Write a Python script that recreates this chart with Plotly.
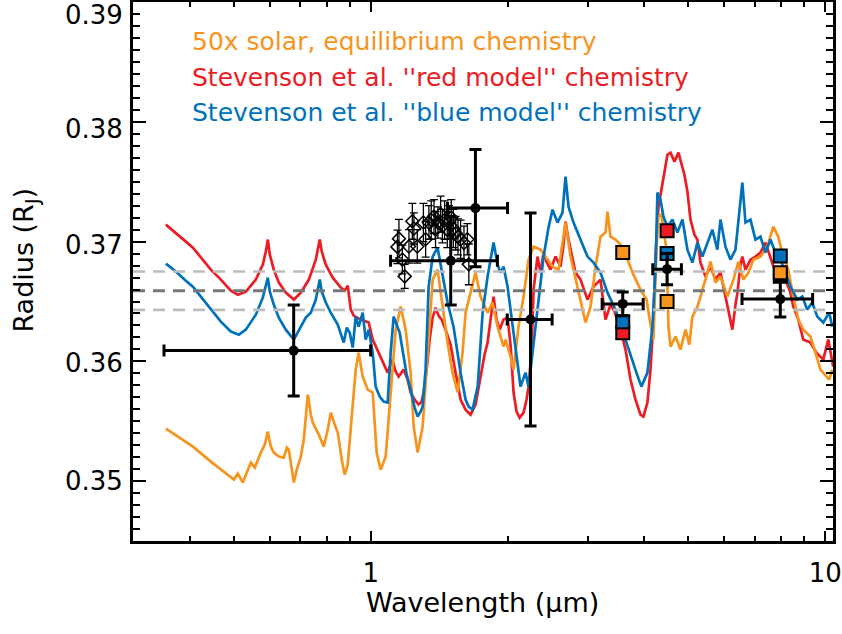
import plotly.graph_objects as go
import math

# ---------------- model spectra (wavelength in micron, radius in R_J) ----------------
wl_red = [0.3543,0.3727,0.3921,0.4063,0.4230,0.4450,0.4681,0.4924,0.5102,0.5313,
          0.5589,0.5791,0.5879,0.5939,0.5999,0.6121,0.6279,0.6505,0.6775,0.7019,
          0.7310,0.7573,0.7648,0.7726,0.7805,0.7966,0.8252,0.8594,0.8768,0.8902,
          0.9040,0.9176,0.9506,0.9900,1.0102,1.0519,1.0898,1.1159,1.1349,1.1520,
          1.1817,1.2059,1.2243,1.2494,1.2749,1.2945,1.3076,1.3277,1.3480,1.3688,
          1.3891,1.4103,1.4322,1.4612,1.4988,1.5372,1.5766,1.6170,1.6584,1.7010,
          1.7446,1.7803,1.8077,1.8352,1.8634,1.8919,1.9210,1.9603,2.0004,2.0307,
          2.0622,2.0937,2.1259,2.1694,2.2027,2.2252,2.2590,2.2820,2.3281,2.3640,
          2.4007,2.4369,2.4867,2.5505,2.6159,2.6559,2.6830,2.7240,2.7518,2.8224,
          2.8948,2.9990,3.0914,3.2032,3.2853,3.3697,3.4385,3.5447,3.6356,3.7288,
          3.8244,3.9225,3.9811,4.0625,4.1262,4.1879,4.2320,4.2954,4.3614,4.4284,
          4.4953,4.5660,4.6580,4.7534,4.8261,4.8999,4.9750,5.0526,5.1540,5.2326,
          5.3150,5.4513,5.5911,5.7345,5.8815,6.0323,6.1219,6.2475,6.3457,6.4103,
          6.5084,6.5700,6.6753,6.8465,7.0220,7.2021,7.3868,7.5762,7.7704,7.9697,
          8.1740,8.3836,8.5065,8.7250,8.9437,9.2772,9.5553,9.8997,10.153,10.41]
r_red = [0.37142,0.37075,0.3700,0.3695,0.36866,0.36766,0.36683,0.36591,0.36557,0.36583,
         0.36683,0.36808,0.36917,0.37017,0.36891,0.36766,0.36658,0.36574,0.36516,0.36574,
         0.36683,0.3685,0.36933,0.37017,0.36917,0.36808,0.36699,0.36616,0.36591,0.36633,
         0.36432,0.36382,0.36349,0.36324,0.36182,0.3604,0.35906,0.36015,0.35915,0.35873,
         0.35931,0.35848,0.3574,0.35681,0.35639,0.35664,0.3574,0.35931,0.36182,0.36365,
         0.36449,0.36382,0.36349,0.36265,0.3614,0.35906,0.35681,0.35597,0.35555,0.35639,
         0.35873,0.36056,0.36157,0.36349,0.36541,0.36349,0.36265,0.36349,0.36365,0.3614,
         0.3574,0.3558,0.3553,0.35572,0.35681,0.35789,0.36098,0.36599,0.36875,0.36741,
         0.36908,0.36833,0.36766,0.36875,0.36791,0.36975,0.37167,0.37017,0.36933,0.36741,
         0.36683,0.36516,0.36624,0.36683,0.36349,0.36474,0.36416,0.36265,0.36098,0.35848,
         0.35681,0.35555,0.35539,0.35656,0.35931,0.36349,0.36875,0.37292,0.37434,0.37601,
         0.37726,0.37743,0.37668,0.37743,0.37643,0.37559,0.37418,0.37184,0.37058,0.37017,
         0.36825,0.36708,0.36791,0.36683,0.36741,0.36541,0.36432,0.36265,0.36474,0.36574,
         0.36808,0.36875,0.36766,0.3685,0.36875,0.36908,0.36992,0.36875,0.36741,0.36708,
         0.36683,0.36574,0.36457,0.36349,0.36182,0.36157,0.36073,0.36015,0.36182,0.35956]

wl_blue = [0.3543,0.3727,0.3921,0.4063,0.4230,0.4450,0.4681,0.4924,0.5128,0.5313,
           0.5589,0.5791,0.5879,0.5939,0.5999,0.6121,0.6279,0.6505,0.6775,0.7019,
           0.7199,0.7383,0.7573,0.7648,0.7726,0.7805,0.7966,0.8170,0.8462,0.8724,
           0.8859,0.8993,0.9129,0.9269,0.9410,0.9603,0.9750,0.9900,1.0102,1.0256,
           1.0466,1.0680,1.0898,1.1065,1.1233,1.1405,1.1580,1.1817,1.2000,1.2243,
           1.2494,1.2686,1.2875,1.3010,1.3205,1.3412,1.3688,1.4031,1.4394,1.4762,
           1.5214,1.5766,1.6170,1.6423,1.6758,1.7192,1.7631,1.8077,1.8634,1.9015,
           1.9305,1.9603,2.0004,2.0307,2.0829,2.1363,2.1910,2.2252,2.2699,2.3281,
           2.4007,2.4615,2.5119,2.5763,2.6424,2.6830,2.7240,2.7938,2.8948,2.9990,
           3.0914,3.2032,3.3189,3.4561,3.5447,3.6356,3.7288,3.8421,3.9406,4.0625,
           4.1668,4.2320,4.2737,4.3405,4.4055,4.4953,4.6110,4.7290,4.8506,4.9750,
           5.1022,5.2326,5.3666,5.5040,5.6445,5.7890,5.8815,6.0323,6.1870,6.3457,
           6.4429,6.5700,6.6753,6.8465,7.0220,7.2021,7.3868,7.5762,7.7704,7.9697,
           8.1740,8.3836,8.6810,8.9041,9.1243,9.3577,9.6041,9.8997,10.205,10.36]
r_blue = [0.36816,0.3675,0.36674,0.36624,0.36541,0.36432,0.36332,0.36249,0.36223,0.36265,
          0.3639,0.36532,0.36624,0.36699,0.36582,0.36474,0.36365,0.36265,0.36182,0.36282,
          0.36365,0.36407,0.36516,0.36599,0.36683,0.36582,0.36491,0.36407,0.36307,0.36157,
          0.36282,0.3624,0.36115,0.36374,0.3629,0.36407,0.36182,0.36265,0.36073,0.35789,
          0.35706,0.35664,0.35656,0.36073,0.36374,0.36307,0.3624,0.3604,0.35889,0.35764,
          0.35614,0.35539,0.3558,0.35622,0.35931,0.36624,0.36875,0.3695,0.36708,0.36491,
          0.3629,0.35906,0.35681,0.35622,0.35597,0.35789,0.36407,0.36708,0.36992,0.36808,
          0.36741,0.36791,0.36624,0.36432,0.36123,0.35789,0.35906,0.35789,0.36073,0.36457,
          0.36875,0.37117,0.37267,0.37159,0.37242,0.37543,0.37292,0.37159,0.37017,0.36875,
          0.36825,0.36741,0.36574,0.36432,0.36307,0.36182,0.3604,0.35906,0.35789,0.35906,
          0.3629,0.36766,0.37409,0.37351,0.37209,0.37125,0.37184,0.37075,0.37184,0.36933,
          0.36825,0.36992,0.36875,0.36992,0.371,0.36933,0.37184,0.36958,0.3685,0.36933,
          0.37159,0.37493,0.37159,0.37184,0.37017,0.37042,0.36908,0.37017,0.36908,0.3685,
          0.36741,0.36624,0.36516,0.36541,0.36432,0.36491,0.36374,0.36324,0.36407,0.3629]

wl_orange = [0.3543,0.4063,0.4450,0.4681,0.5000,0.5102,0.5233,0.5449,0.5561,0.5732,
             0.5848,0.5939,0.6030,0.6121,0.6279,0.6440,0.6539,0.6605,0.6775,0.6877,
             0.7019,0.7126,0.7272,0.7383,0.7458,0.7687,0.7884,0.8045,0.8170,0.8333,
             0.8462,0.8636,0.8768,0.8902,0.9040,0.9269,0.9410,0.9603,0.9849,1.0102,
             1.0308,1.0519,1.0789,1.1065,1.1349,1.1639,1.1937,1.2243,1.2432,1.2686,
             1.3010,1.3344,1.3688,1.4031,1.4394,1.4762,1.5138,1.5534,1.5929,1.6170,
             1.6584,1.7010,1.7446,1.8077,1.8535,1.9015,1.9603,1.9800,2.0307,2.0622,
             2.1145,2.1694,2.2252,2.2820,2.3640,2.4491,2.5119,2.5895,2.6830,2.7518,
             2.8224,2.8948,2.9690,3.0451,3.1232,3.2032,3.2853,3.3189,3.3697,3.4561,
             3.5447,3.6723,3.7844,3.9225,4.0438,4.1262,4.1879,4.2521,4.2954,4.3614,
             4.4284,4.4738,4.5195,4.5660,4.6830,4.8031,4.9263,5.0240,5.1022,5.2326,
             5.3150,5.4513,5.5911,5.7345,5.8815,6.0925,6.2793,6.4429,6.6079,6.7773,
             6.9506,7.2021,7.4592,7.6837,7.8806,8.0828,8.2902,8.5065,8.7250,8.9437,
             9.2772,9.5151,9.7591,10.205,10.36]
r_orange = [0.35439,0.35288,0.35163,0.35096,0.35013,0.35063,0.34988,0.35155,0.35113,0.35238,
            0.35305,0.35413,0.35288,0.35238,0.35205,0.35196,0.3528,0.35263,0.34988,0.35096,
            0.35205,0.35347,0.35722,0.35556,0.35489,0.35388,0.35288,0.3543,0.35572,0.35472,
            0.35405,0.3518,0.35054,0.35138,0.35455,0.35931,0.36073,0.35873,0.35764,0.3574,
            0.35238,0.35096,0.35205,0.3574,0.36265,0.36457,0.36265,0.35906,0.35455,0.35238,
            0.35455,0.36073,0.36683,0.36766,0.36457,0.36157,0.35906,0.3574,0.36073,0.36407,
            0.36574,0.36741,0.36541,0.36407,0.36491,0.3629,0.36123,0.36182,0.3604,0.35931,
            0.3629,0.36541,0.3685,0.36958,0.36933,0.3685,0.36791,0.36766,0.37159,0.36875,
            0.36683,0.36516,0.36324,0.36457,0.36791,0.37042,0.37075,0.3725,0.37042,0.37017,
            0.36975,0.3685,0.36724,0.36599,0.36516,0.36307,0.36182,0.36933,0.37209,0.37225,
            0.37058,0.36933,0.3629,0.36123,0.36207,0.36098,0.36265,0.3614,0.36374,0.36457,
            0.3654,0.36683,0.36833,0.36658,0.36708,0.36541,0.36683,0.36833,0.36683,0.36741,
            0.3685,0.36875,0.36958,0.37125,0.37042,0.36875,0.36766,0.36541,0.36349,0.36265,
            0.36207,0.36073,0.35931,0.35848,0.35931]

# ---------------- horizontal reference levels (mean and +/-1 sigma) ----------------
mean_level = 0.3659
sigma_levels = [0.3675, 0.3643]

# ---------------- broadband measurements ----------------
bb_wl = [0.677, 1.50, 1.70, 2.247, 3.585, 4.488, 7.963]
bb_lo = [0.351, 1.106, 1.476, 1.997, 3.23, 4.174, 6.56]
bb_hi = [1.00, 1.90, 2.00, 2.507, 3.976, 4.826, 9.38]
bb_r = [0.3609, 0.3684, 0.3728, 0.3635, 0.3648, 0.3677, 0.3652]
bb_err = [0.0038, 0.0037, 0.0049, 0.0089, 0.0010, 0.0013, 0.0015]

# ---------------- spectroscopic (diamond) points ----------------
sp_wl = [1.145,1.154,1.174,1.188,1.214,1.235,1.245,1.266,1.306,1.321,1.343,1.359,1.378,1.389,
         1.406,1.425,1.438,1.454,1.474,1.486,1.504,1.520,1.538,1.556,1.577,1.604,1.632,1.644]
sp_r = [0.36956,0.37025,0.3685,0.3671,0.3696,0.3717,0.3711,0.3696,0.3716,0.3702,0.3716,0.3718,0.3721,0.3710,
        0.3716,0.3723,0.3713,0.3718,0.3710,0.3716,0.3720,0.3711,0.3707,0.3704,0.3702,0.3699,0.3702,0.3681]
sp_err = [0.0014,0.0016,0.0012,0.0010,0.0014,0.0015,0.0013,0.0014,0.0016,0.0015,0.0014,0.0016,0.0014,0.0015,
          0.0013,0.0015,0.0014,0.0016,0.0015,0.0014,0.0015,0.0016,0.0014,0.0015,0.0016,0.0014,0.0013,0.0017]

# ---------------- band-integrated model values ----------------
band_wl = [3.585, 4.488, 7.963]
band_orange = [0.3691, 0.3650, 0.3674]
band_red = [0.3624, 0.3709, 0.3671]
band_blue = [0.3633, 0.3690, 0.3688]

labels = ["50x solar, equilibrium chemistry",
          "Stevenson et al. ''red model'' chemistry",
          "Stevenson et al. ''blue model'' chemistry"]

y_ticks = [0.35, 0.36, 0.37, 0.38, 0.39]
y_ticktext = ["0.35", "0.36", "0.37", "0.38", "0.39"]
y_label_drop = [0, 1.5, 3.5, 7, 13]   # pixel drop of each label below its tick (as in reference)

ORANGE = "#F7941D"
RED = "#ED1C24"
BLUE = "#0072BC"
FONT = "DejaVu Sans"

x_min, x_max = 0.30, 10.4
y_min, y_max = 0.345, 0.39001

fig = go.Figure()

for wl, rr, col in [(wl_red, r_red, RED), (wl_orange, r_orange, ORANGE), (wl_blue, r_blue, BLUE)]:
    fig.add_trace(go.Scatter(x=wl, y=rr, mode="lines", line=dict(color=col, width=2.7),
                             showlegend=False, hoverinfo="skip"))

# dashed reference levels
for lev in sigma_levels:
    fig.add_trace(go.Scatter(x=[x_min, x_max], y=[lev, lev], mode="lines",
                             line=dict(color="#BDBDBD", width=2.6, dash="12px,8px"),
                             showlegend=False, hoverinfo="skip"))
fig.add_trace(go.Scatter(x=[x_min, x_max], y=[mean_level, mean_level], mode="lines",
                         line=dict(color="#777777", width=3, dash="12px,8px"),
                         showlegend=False, hoverinfo="skip"))

# band-integrated model squares
for vals, col in [(band_red, RED), (band_orange, ORANGE), (band_blue, BLUE)]:
    fig.add_trace(go.Scatter(x=band_wl, y=vals, mode="markers",
                             marker=dict(symbol="square", size=13, color=col,
                                         line=dict(color="black", width=2)),
                             showlegend=False, hoverinfo="skip"))

# spectroscopic diamonds
fig.add_trace(go.Scatter(x=sp_wl, y=sp_r, mode="markers",
                         marker=dict(symbol="diamond-open", size=10, color="black",
                                     line=dict(width=1.5)),
                         error_y=dict(type="data", array=sp_err, color="black",
                                      thickness=1.3, width=4),
                         showlegend=False, hoverinfo="skip"))

# broadband points
fig.add_trace(go.Scatter(x=bb_wl, y=bb_r, mode="markers",
                         marker=dict(symbol="circle", size=10, color="black"),
                         error_y=dict(type="data", array=bb_err, color="black",
                                      thickness=3, width=6),
                         error_x=dict(type="data",
                                      array=[h - w for h, w in zip(bb_hi, bb_wl)],
                                      arrayminus=[w - l for w, l in zip(bb_wl, bb_lo)],
                                      color="black", thickness=3, width=6),
                         showlegend=False, hoverinfo="skip"))

# legend text
for i, (txt, col) in enumerate(zip(labels, [ORANGE, RED, BLUE])):
    fig.add_annotation(x=0.0814, y=0.926 - i * 0.0655, xref="paper", yref="paper",
                       text=txt, showarrow=False, xanchor="left", yanchor="middle",
                       font=dict(family=FONT, size=25, color=col))

# y tick labels
for val, txt, drop in zip(y_ticks, y_ticktext, y_label_drop):
    fig.add_annotation(x=0, y=val, xref="paper", yref="y", text=txt, showarrow=False,
                       xanchor="right", yanchor="middle", xshift=-9, yshift=-drop,
                       borderpad=0,
                       font=dict(family=FONT, size=26, color="black"))

# axis titles
fig.add_annotation(x=0.4986, y=-0.115, xref="paper", yref="paper",
                   text="Wavelength (\u03bcm)", showarrow=False,
                   xanchor="center", yanchor="middle",
                   font=dict(family=FONT, size=27, color="black"))
fig.add_annotation(x=-0.153, y=0.522, xref="paper", yref="paper",
                   text="Radius (R<sub>J</sub>)", showarrow=False, textangle=-90,
                   xanchor="center", yanchor="middle",
                   font=dict(family=FONT, size=27, color="black"))

fig.update_layout(
    width=842, height=634,
    margin=dict(l=133, r=9, t=2, b=93, autoexpand=False),
    plot_bgcolor="white", paper_bgcolor="white",
    showlegend=False,
    font=dict(family=FONT, size=26, color="black"),
    xaxis=dict(type="log", range=[math.log10(x_min), math.log10(x_max)],
               tickmode="linear", tick0=0, dtick=1,
               ticks="inside", ticklen=10, tickwidth=2, tickcolor="black",
               minor=dict(dtick="D1", ticks="inside", ticklen=5, tickwidth=2,
                          tickcolor="black", showgrid=False),
               showline=True, linewidth=3, linecolor="black", mirror="allticks",
               showgrid=False, zeroline=False, ticklabelstandoff=7, automargin=False,
               ticklabeloverflow="allow",
               tickfont=dict(family=FONT, size=26)),
    yaxis=dict(range=[y_min, y_max],
               tickmode="linear", tick0=0.35, dtick=0.01, showticklabels=False,
               ticks="inside", ticklen=13, tickwidth=2, tickcolor="black",
               minor=dict(dtick=0.001, ticks="inside", ticklen=7, tickwidth=2,
                          tickcolor="black", showgrid=False),
               showline=True, linewidth=3, linecolor="black", mirror="allticks",
               showgrid=False, zeroline=False, automargin=False),
)

fig.write_html("out.html", config={"displayModeBar": False},
               post_script="document.body.style.margin='0';document.body.style.padding='0';")
